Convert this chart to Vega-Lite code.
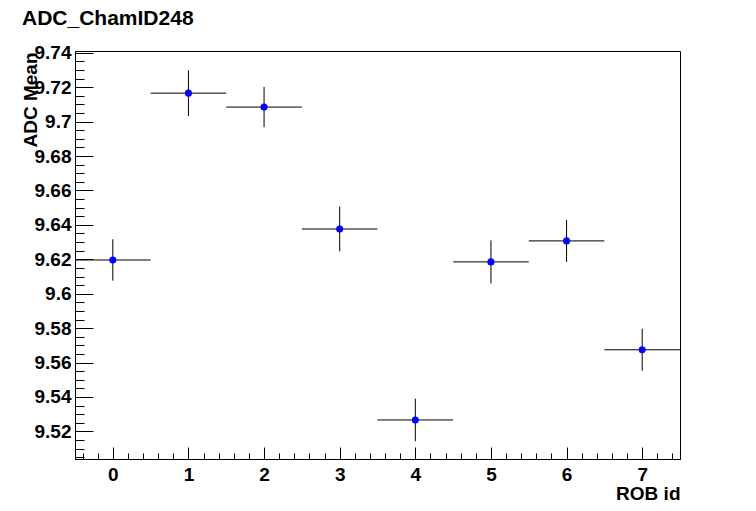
{
  "$schema": "https://vega.github.io/schema/vega-lite/v6.json",
  "width": 605,
  "height": 408,
  "autosize": {"type": "none"},
  "padding": {"left": 75, "top": 51, "right": 76, "bottom": 52},
  "background": "white",
  "config": {
    "view": {"stroke": "black", "strokeWidth": 1},
    "axis": {"grid": false, "domainColor": "black", "tickColor": "black", "labelFont": "Liberation Sans", "labelFontWeight": "bold", "labelFontSize": 19, "labelColor": "black", "titleFont": "Liberation Sans", "titleFontWeight": "bold", "titleFontSize": 19, "titleColor": "black"}
  },
  "title": {"text": "ADC_ChamID248", "font": "Liberation Sans", "fontSize": 21, "fontWeight": "bold", "color": "black", "anchor": "start", "frame": "group", "baseline": "alphabetic", "dx": -53, "dy": 3, "offset": 1},
  "data": {"values": [
    {"rob": 0, "lo": -0.5, "hi": 0.5, "mean": 9.6196, "err": 0.012},
    {"rob": 1, "lo": 0.5, "hi": 1.5, "mean": 9.7166, "err": 0.0133},
    {"rob": 2, "lo": 1.5, "hi": 2.5, "mean": 9.7085, "err": 0.0117},
    {"rob": 3, "lo": 2.5, "hi": 3.5, "mean": 9.6376, "err": 0.013},
    {"rob": 4, "lo": 3.5, "hi": 4.5, "mean": 9.5266, "err": 0.0124},
    {"rob": 5, "lo": 4.5, "hi": 5.5, "mean": 9.6185, "err": 0.0125},
    {"rob": 6, "lo": 5.5, "hi": 6.5, "mean": 9.6307, "err": 0.0122},
    {"rob": 7, "lo": 6.5, "hi": 7.5, "mean": 9.5674, "err": 0.0122}
  ]},
  "layer": [
    {
      "mark": {"type": "point", "opacity": 0},
      "encoding": {
        "x": {"field": "rob", "type": "quantitative", "scale": {"domain": [-0.5, 7.5], "nice": false, "zero": false},
              "axis": {"orient": "bottom", "values": [-0.4,-0.2,0.2,0.4,0.6,0.8,1.2,1.4,1.6,1.8,2.2,2.4,2.6,2.8,3.2,3.4,3.6,3.8,4.2,4.4,4.6,4.8,5.2,5.4,5.6,5.8,6.2,6.4,6.6,6.8,7.2,7.4], "tickSize": -6, "labels": false, "domain": false, "title": null}},
        "y": {"field": "mean", "type": "quantitative", "scale": {"domain": [9.5039, 9.7411], "nice": false, "zero": false},
              "axis": {"orient": "left", "values": [9.505,9.51,9.515,9.525,9.53,9.535,9.545,9.55,9.555,9.565,9.57,9.575,9.585,9.59,9.595,9.605,9.61,9.615,9.625,9.63,9.635,9.645,9.65,9.655,9.665,9.67,9.675,9.685,9.69,9.695,9.705,9.71,9.715,9.725,9.73,9.735], "tickSize": -9, "labels": false, "domain": false, "title": null}}
      }
    },
    {
      "mark": {"type": "rule", "color": "black", "strokeWidth": 1},
      "encoding": {
        "x": {"field": "lo", "type": "quantitative", "scale": {"domain": [-0.5, 7.5], "nice": false, "zero": false},
              "axis": {"orient": "bottom", "values": [0,1,2,3,4,5,6,7], "tickSize": -12, "labelPadding": 18, "domain": true, "title": "ROB id", "titleAnchor": "end", "titleAlign": "right", "titleX": 605, "titleY": 40, "titleBaseline": "alphabetic"}},
        "x2": {"field": "hi"},
        "y": {"field": "mean", "type": "quantitative", "scale": {"domain": [9.5039, 9.7411], "nice": false, "zero": false},
              "axis": {"orient": "left", "values": [9.52,9.54,9.56,9.58,9.6,9.62,9.64,9.66,9.68,9.7,9.72,9.74], "format": "~g", "tickSize": -18, "labelPadding": 22, "domain": true, "title": "ADC Mean", "titleAngle": 270, "titleAlign": "right", "titleBaseline": "alphabetic", "titleX": -39, "titleY": 1}}
      }
    },
    {
      "mark": {"type": "errorbar", "color": "black", "thickness": 1},
      "encoding": {
        "x": {"field": "rob", "type": "quantitative", "axis": null},
        "y": {"field": "mean", "type": "quantitative", "axis": null},
        "yError": {"field": "err"}
      }
    },
    {
      "mark": {"type": "circle", "color": "#0000ff", "opacity": 1, "size": 50},
      "encoding": {
        "x": {"field": "rob", "type": "quantitative", "axis": null},
        "y": {"field": "mean", "type": "quantitative", "axis": null}
      }
    }
  ],
  "resolve": {"axis": {"x": "independent", "y": "independent"}}
}
